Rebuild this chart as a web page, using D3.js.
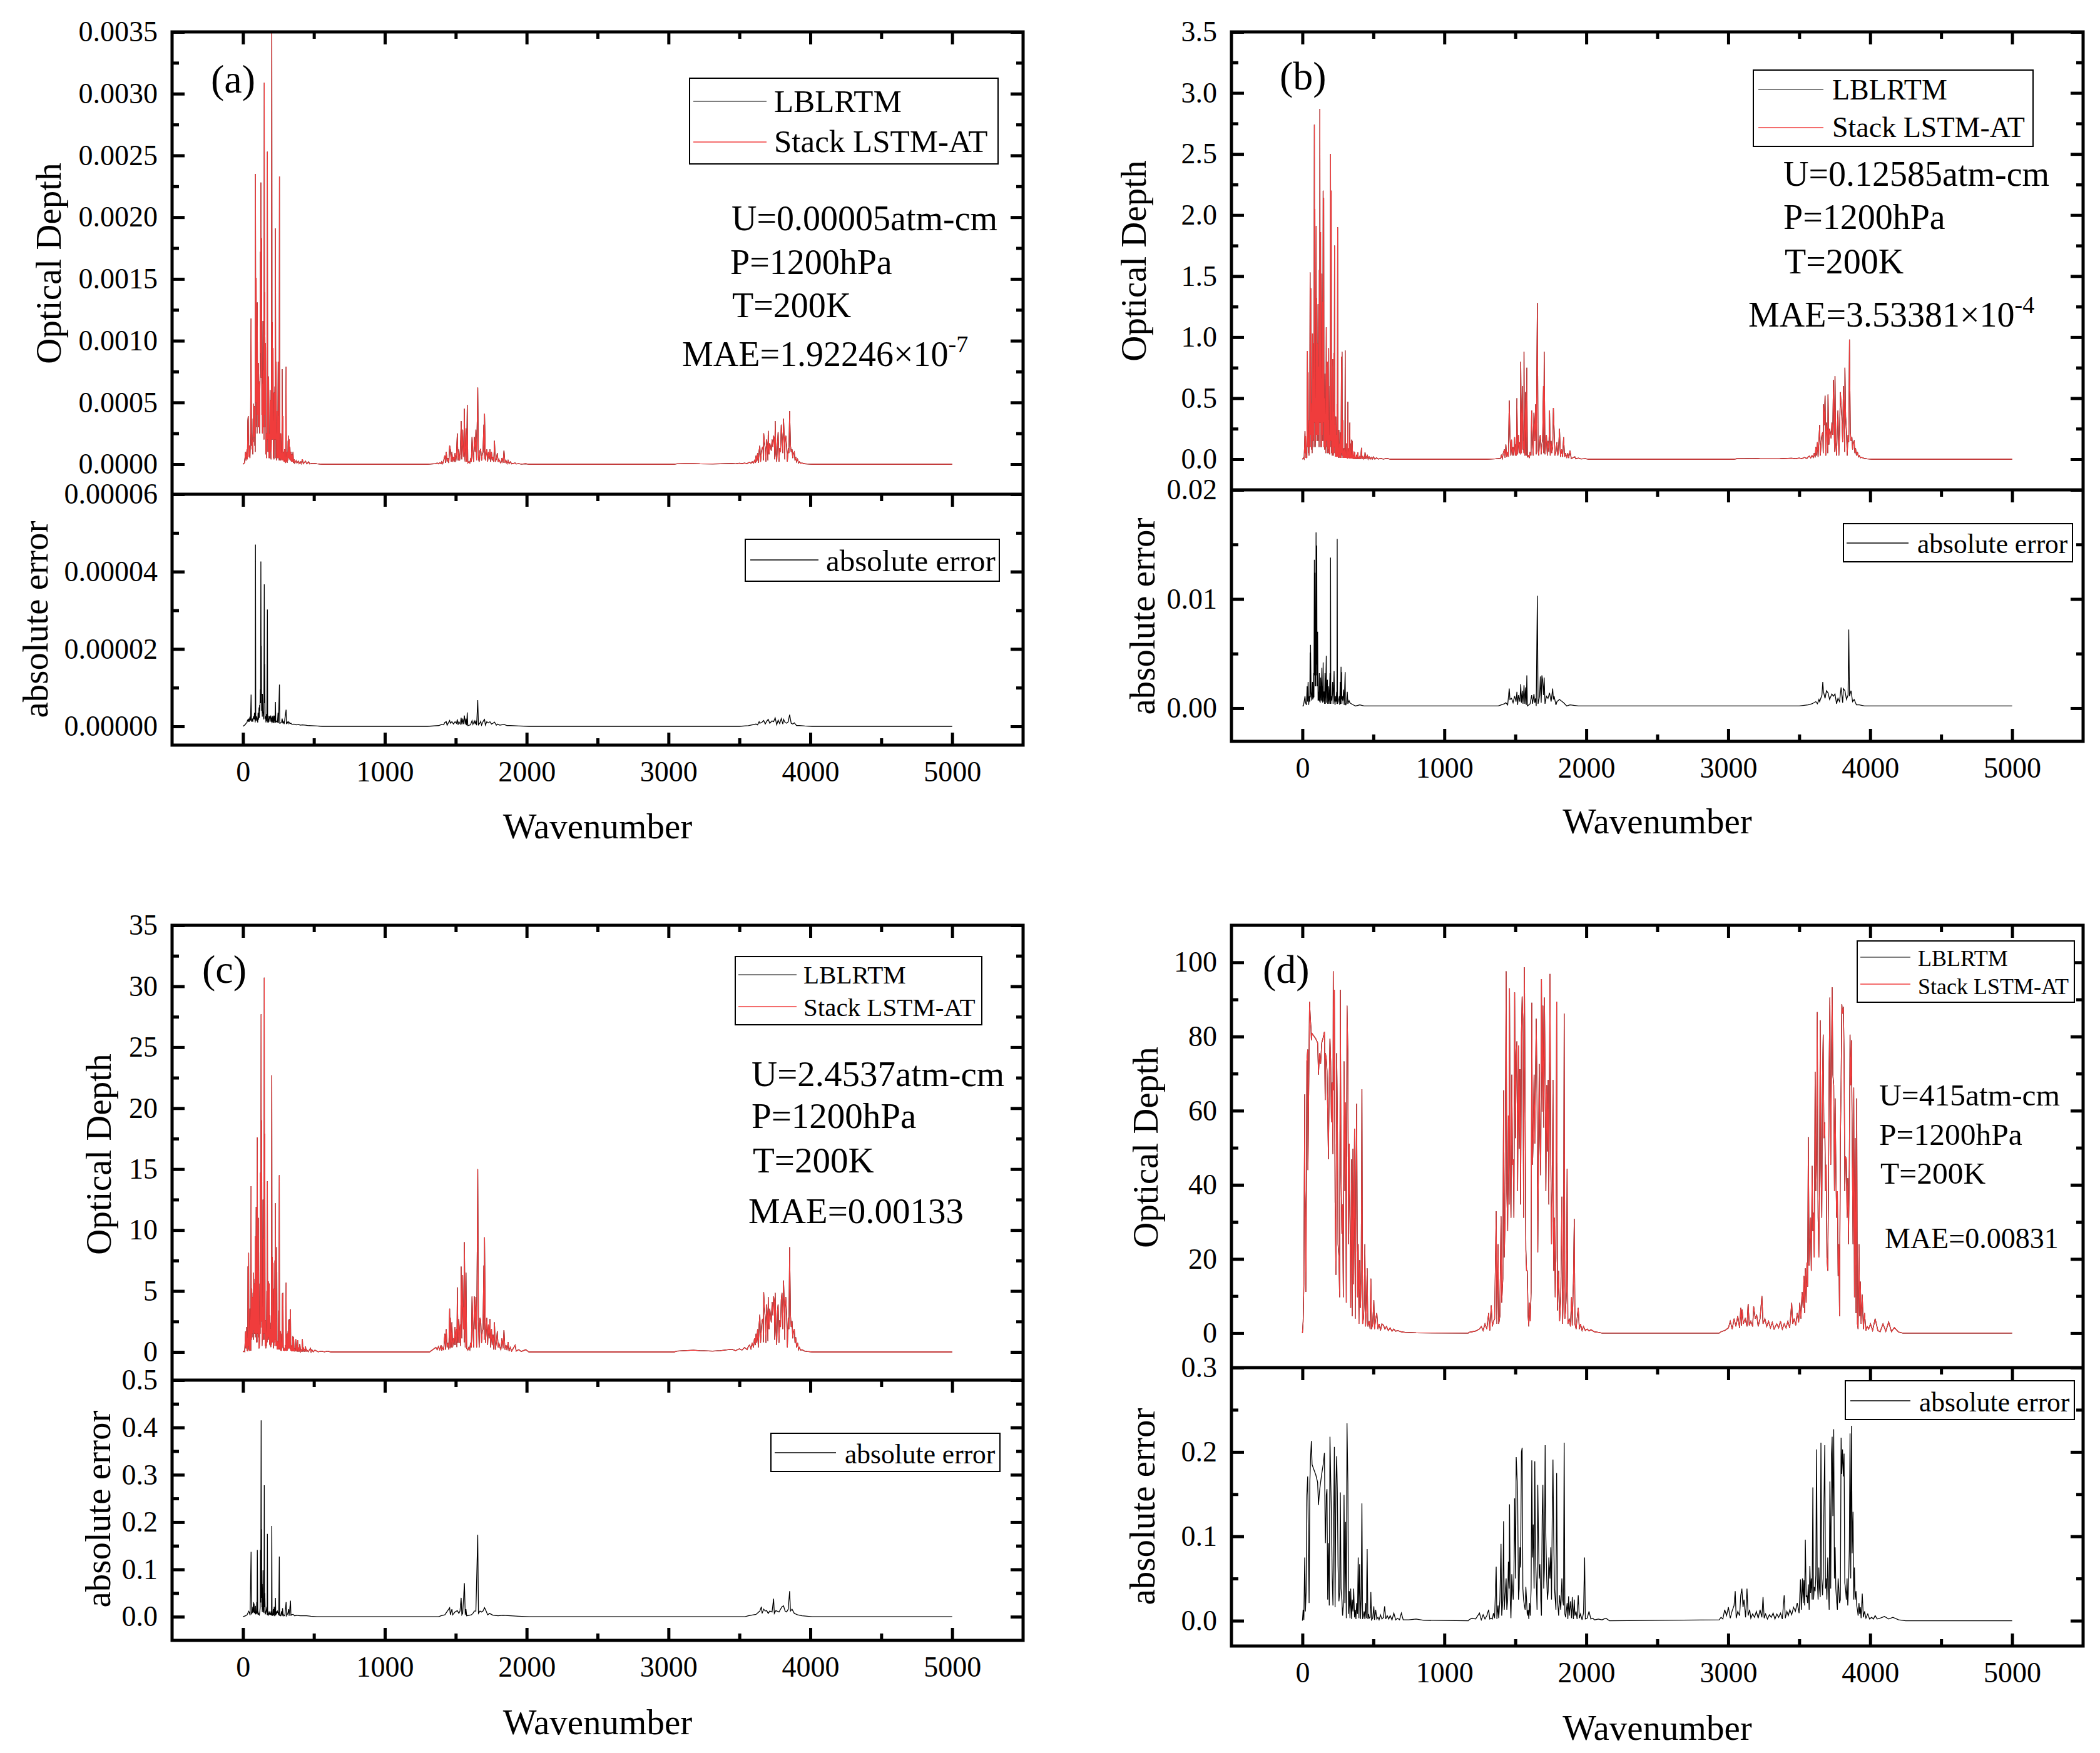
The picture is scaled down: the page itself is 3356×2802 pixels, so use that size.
<!DOCTYPE html>
<html><head><meta charset="utf-8">
<script src="https://cdn.jsdelivr.net/npm/d3@7"></script>
<style>
body{margin:0;background:#fff}
text{font-family:"Liberation Serif","Times New Roman",Times,serif;fill:#000}
</style>
</head><body>
<svg id="chart" width="3356" height="2802" xmlns="http://www.w3.org/2000/svg"></svg>
<script>
// ---------------- DATA (wavenumber, value) ----------------
// Panel (a) optical depth
const odA1=[[10,0.00001],[15,0.00006],[18,0.0001],[22,0.00003],[28,0.00012],[31,0.00004],[34,0.00035],[37,0.00039],[41,0.00006],[44,0.00015],[49,0.00005],[53,0.00025],[57,0.00118],[60,0.00015],[62,0.00025],[64,0.00012],[66,0.0002],[69,0.00008],[71,0.00037],[73,0.00018],[75,0.00049],[78,0.00022],[81,0.00047],[83,0.00015],[84,0.00034],[86,0.0001],[88,0.00235],[90,0.0005],[93,0.00151],[95,0.0003],[97,0.00052],[99,0.00025],[101,0.00131],[103,0.0004],[106,0.00065],[108,0.0003],[110,0.00082],[112,0.0003],[115,0.00067],[117,0.00025],[119,0.00058],[121,0.0008],[122,0.00172],[124,0.0009],[126,0.00228],[128,0.0007],[131,0.00183],[133,0.0004],[135,0.00065],[137,0.00025],[141,0.00116],[143,0.0003],[146,0.00076],[148,0.0002],[150,0.00309],[152,0.0004],[154,0.00139],[156,0.0003],[159,0.00098],[161,0.00008],[163,0.00025],[165,0.00005],[168,0.00025],[170,0.0001],[172,0.00253],[174,0.0002],[176,0.00069],[178,0.0001],[181,0.00071],[183,0.00005],[187,0.00025],[189,0.00005],[191,0.0006],[193,0.0001],[196,0.00052],[198,0.00004],[200,0.0002],[203,0.0036],[205,0.0002],[207,0.00115],[209,0.0002],[212,0.00094],[214,0.00005],[216,0.00028],[218,0.00004],[220,0.00058],[222,0.0002],[225,0.00063],[227,0.00005],[229,0.00191],[231,0.0002],[234,0.00083],[236,0.00003],[238,0.00025],[240,0.00005],[243,0.00043],[245,0.00005],[248,0.00083],[250,0.00005],[253,0.00039],[255,0.00003],[257,0.00233],[259,0.00005],[262,0.00008],[264,0.00003],[266,0.00025],[269,0.00004],[272,0.00009],[274,0.00003],[276,0.00077],[278,0.00003],[281,0.00039],[283,0.00003],[285,0.0001],[288,0.00002],[293,0.00012],[295,0.00002],[297,0.00003],[300,0.00001],[304,0.00079],[306,0.00002],[309,0.00006],[311,0.00001],[313,0.0001],[316,0.00003],[318,0.00019],[320,0.00005],[322,0.00023],[324,0.00005],[326,0.0002],[328,0.00004],[331,0.00014],[334,0.00003],[338,0.0001],[341,0.00002],[345,0.00008],[348,0.00002],[353,0.0001],[356,0.00001],[360,0.00004],[365,0.00001],[375,0.00003],[380,0.00001],[390,0.000025],[395,0.000005],[404,0.00002],[410,0.000005],[419,0.00004],[425,0.000005],[441,0.000025],[450,0.000003],[463,0.00002],[470,0.000002],[492,0.000007],[522,0.000003],[560,0]];
const odA2=[[1300,0],[1360,0.000005],[1369,0.00001],[1378,0.000003],[1387,0.000012],[1396,0.000004],[1401,0.00002],[1408,0.000005],[1415,0.00003],[1423,0.00007],[1428,0.00001],[1433,0.0001],[1439,0.00002],[1446,0.00005],[1451,0.00001],[1457,0.00015],[1462,0.00012],[1468,0.00002],[1473,0.0001],[1478,0.00002],[1484,0.00006],[1489,0.00002],[1495,0.00009],[1500,0.00002],[1505,0.00008],[1511,0.00025],[1516,0.00003],[1522,0.00012],[1527,0.00003],[1532,0.00008],[1538,0.00035],[1543,0.00004],[1549,0.00028],[1554,0.00006],[1558,0.0001],[1561,0.00045],[1564,0.00005],[1567,0.00002],[1572,0.00029],[1577,0.00002],[1581,0.00048],[1585,0.00001],[1592,0.00002],[1599,0.00001],[1604,0.00004],[1610,0.00002],[1615,0.00022],[1621,0.00008],[1626,0.00002],[1631,0.00022],[1637,0.0001],[1642,0.00028],[1647,0.00003],[1655,0.00062],[1660,0.00005],[1665,0.00002],[1671,0.00011],[1676,0.00012],[1682,0.00003],[1687,0.00008],[1692,0.0001],[1698,0.00032],[1700,0.00004],[1703,0.00041],[1709,0.00003],[1714,0.00008],[1719,0.00012],[1725,0.00002],[1730,0.0001],[1736,0.00004],[1741,0.00012],[1746,0.00002],[1752,0.0001],[1757,0.00003],[1763,0.00006],[1768,0.00002],[1773,0.00019],[1779,0.00002],[1786,0.00004],[1793,0.00009],[1799,0.00002],[1804,0.00004],[1811,0.00002],[1818,0.00001],[1826,0.00005],[1833,0.00001],[1840,0.00011],[1847,0.00001],[1854,0.00003],[1862,0.000005],[1869,0.00003],[1876,0.000005],[1885,0.00002],[1894,0.000003],[1919,0.00001],[1926,0.000002],[1944,0.000005],[1962,0.000001],[1993,0.000004],[2016,0]];
const odA3=[[3040,0],[3059,0.000003],[3113,0.000004],[3176,0.000005],[3221,0.000003],[3311,0.000002],[3365,0.000003],[3446,0.000006],[3473,0.000003],[3500,0.000008],[3518,0.000004],[3536,0.00001],[3554,0.000005],[3563,0.000012],[3572,0.000015],[3581,0.000007],[3590,0.00002],[3599,0.00001],[3606,0.00003],[3612,0.00001],[3617,0.00007],[3622,0.00002],[3628,0.00009],[3633,0.00001],[3639,0.00011],[3644,0.00015],[3649,0.00002],[3655,0.0001],[3660,0.00013],[3666,0.00014],[3669,0.00003],[3671,0.00025],[3676,0.00018],[3682,0.00013],[3687,0.00002],[3692,0.0002],[3698,0.00013],[3701,0.00003],[3703,0.00027],[3709,0.00008],[3714,0.00017],[3719,0.00014],[3725,0.00011],[3730,0.0002],[3736,0.00014],[3741,0.00023],[3746,0.0002],[3749,0.00004],[3752,0.00035],[3757,0.00009],[3763,0.00002],[3768,0.00016],[3773,0.00026],[3779,0.00002],[3784,0.00013],[3790,0.0001],[3795,0.00032],[3800,0.00024],[3806,0.00009],[3811,0.00037],[3817,0.00019],[3820,0.00004],[3822,0.00021],[3827,0.00023],[3833,0.00014],[3838,0.00002],[3844,0.00013],[3849,0.00009],[3854,0.00043],[3860,0.00015],[3865,0.0001],[3871,0.00012],[3876,0.00005],[3881,0.00009],[3887,0.0001],[3892,0.00003],[3897,0.00006],[3903,0.00002],[3910,0.00004],[3917,0.00001],[3923,0.00002],[3932,0.000008],[3941,0.00001],[3959,0.000004],[3977,0.000002],[4013,0]];
// Panel (a) absolute error
const errA1=[[10,0.0000003],[15,0.0000004],[18,0.0000006],[22,0.0000008],[28,0.000001],[31,0.0000015],[34,0.0000017],[37,0.0000012],[41,0.000002],[44,0.0000012],[49,0.0000025],[53,0.0000015],[57,0.0000082],[60,0.0000012],[62,0.0000014],[66,0.000002],[69,0.0000012],[71,0.000002],[75,0.0000026],[78,0.0000018],[81,0.0000035],[84,0.000002],[86,0.000001],[88,0.000047],[90,0.000002],[93,0.0000014],[97,0.0000026],[99,0.0000018],[101,0.000002],[104,0.000001],[106,0.0000035],[108,0.0000017],[110,0.000002],[113,0.0000049],[115,0.0000022],[117,0.0000055],[119,0.000004],[122,0.0000096],[124,0.000006],[126,0.0000426],[128,0.000008],[129,0.0000208],[131,0.000004],[133,0.0000067],[136,0.0000025],[137,0.0000084],[140,0.000004],[141,0.0000038],[145,0.0000024],[147,0.0000018],[150,0.0000367],[152,0.000006],[153,0.0000161],[156,0.000002],[159,0.0000026],[162,0.000001],[165,0.0000032],[168,0.0000014],[172,0.0000302],[174,0.000001],[176,0.000002],[180,0.000001],[183,0.0000026],[187,0.0000025],[190,0.0000012],[191,0.0000022],[196,0.0000028],[198,0.0000012],[200,0.0000023],[205,0.0000008],[207,0.0000026],[210,0.0000012],[212,0.0000028],[216,0.0000008],[220,0.0000028],[225,0.0000008],[229,0.0000063],[231,0.000001],[234,0.0000014],[238,0.0000012],[243,0.0000011],[247,0.0000035],[250,0.0000008],[257,0.0000108],[259,0.0000008],[262,0.0000008],[272,0.0000011],[276,0.000002],[281,0.0000008],[285,0.0000012],[290,0.0000006],[304,0.0000043],[306,0.0000006],[313,0.0000011],[318,0.0000007],[322,0.0000012],[331,0.0000007],[338,0.0000008],[345,0.0000005],[360,0.0000006],[375,0.0000004],[390,0.0000005],[404,0.0000003],[419,0.0000004],[441,0.0000003],[463,0.0000002],[522,0.0000001],[560,0]];
const errA2=[[1300,0],[1380,0.0000002],[1401,0.0000005],[1415,0.0000004],[1423,0.000001],[1433,0.0000012],[1439,0.0000003],[1457,0.0000015],[1462,0.0000008],[1473,0.0000012],[1484,0.0000006],[1495,0.0000012],[1505,0.0000008],[1511,0.0000018],[1516,0.0000004],[1522,0.0000012],[1532,0.0000006],[1538,0.0000022],[1543,0.0000005],[1549,0.000002],[1554,0.0000006],[1561,0.0000028],[1567,0.0000005],[1572,0.000002],[1577,0.0000003],[1581,0.0000036],[1585,0.0000002],[1604,0.0000004],[1615,0.0000015],[1621,0.0000005],[1631,0.0000014],[1637,0.0000006],[1642,0.0000015],[1647,0.0000003],[1655,0.0000068],[1660,0.0000004],[1671,0.0000009],[1676,0.0000013],[1682,0.0000003],[1692,0.0000012],[1698,0.0000016],[1703,0.0000018],[1709,0.0000003],[1719,0.0000012],[1730,0.0000009],[1741,0.0000012],[1752,0.0000006],[1763,0.0000008],[1773,0.0000011],[1786,0.0000003],[1793,0.0000006],[1811,0.0000003],[1840,0.0000005],[1862,0.0000002],[1885,0.0000002],[1944,0.0000001],[2016,0]];
const errA3=[[3500,0],[3563,0.0000002],[3590,0.0000004],[3617,0.0000006],[3628,0.0000004],[3639,0.0000012],[3644,0.0000008],[3660,0.0000011],[3671,0.0000015],[3682,0.0000006],[3692,0.0000013],[3703,0.0000018],[3714,0.0000008],[3730,0.0000014],[3741,0.0000012],[3752,0.0000022],[3763,0.0000004],[3773,0.0000016],[3784,0.0000007],[3795,0.000002],[3806,0.0000006],[3811,0.0000018],[3822,0.000001],[3833,0.0000008],[3844,0.0000012],[3854,0.000003],[3865,0.0000008],[3876,0.0000006],[3887,0.0000009],[3903,0.0000002],[3923,0.0000002],[3960,0.0000001],[4013,0]];

// Panel (b) optical depth
const odB1=[[7,0.011],[12,0.002],[18,0.23],[20,0.05],[22,0.19],[25,0.01],[28,0.037],[31,0.01],[35,0.886],[37,0.1],[40,0.71],[42,0.05],[44,0.13],[46,0.03],[49,0.32],[51,0.1],[54,1.53],[56,0.2],[59,1.40],[61,0.1],[63,0.46],[64,0.08],[66,0.24],[68,0.05],[71,1.03],[73,0.15],[75,0.95],[77,0.2],[78,0.58],[81,0.1],[84,2.74],[86,0.3],[88,2.05],[90,0.1],[93,0.24],[95,0.15],[97,1.91],[99,0.2],[101,1.32],[103,0.2],[106,0.95],[108,0.15],[110,1.27],[112,0.2],[115,0.76],[117,0.1],[119,1.55],[121,0.3],[123,2.87],[125,0.3],[128,1.86],[130,0.1],[132,0.39],[134,0.1],[137,1.52],[139,0.2],[141,1.29],[143,0.15],[146,2.20],[148,0.3],[150,2.14],[152,0.1],[154,0.50],[156,0.08],[159,0.70],[161,0.1],[163,0.32],[165,0.05],[168,1.08],[170,0.15],[172,0.76],[174,0.1],[176,0.80],[178,0.05],[181,0.32],[183,0.08],[185,0.91],[187,0.05],[190,0.20],[192,0.04],[194,0.60],[196,0.1],[198,2.5],[200,0.15],[203,2.2],[205,0.05],[207,0.32],[210,0.03],[213,0.82],[215,0.05],[218,0.39],[220,0.03],[222,0.87],[224,0.1],[226,1.75],[228,0.05],[231,0.28],[233,0.02],[235,0.35],[237,0.02],[240,0.20],[242,0.02],[244,0.45],[246,0.02],[248,1.90],[250,0.02],[253,0.07],[255,0.01],[257,0.24],[259,0.02],[262,0.13],[264,0.01],[266,0.22],[268,0.01],[270,0.04],[272,0.01],[275,0.84],[277,0.05],[279,0.88],[281,0.03],[284,0.32],[286,0.01],[288,0.07],[290,0.01],[293,0.09],[295,0.01],[297,0.055],[299,0.01],[301,0.89],[303,0.01],[306,0.055],[308,0.01],[310,0.13],[313,0.01],[316,0.019],[318,0.005],[320,0.47],[322,0.01],[325,0.09],[327,0.01],[329,0.037],[331,0.005],[334,0.30],[336,0.01],[338,0.13],[340,0.005],[343,0.037],[345,0.005],[347,0.16],[349,0.01],[351,0.15],[354,0.005],[357,0.026],[360,0.003],[363,0.063],[366,0.003],[369,0.056],[372,0.003],[375,0.019],[378,0.002],[382,0.037],[386,0.002],[390,0.056],[394,0.002],[398,0.019],[401,0.002],[404,0.019],[410,0.002],[416,0.093],[419,0.002],[422,0.026],[428,0.002],[434,0.019],[438,0.002],[441,0.056],[449,0.002],[457,0.037],[463,0.001],[470,0.019],[477,0.001],[485,0.015],[492,0.001],[500,0.019],[510,0.001],[522,0.011],[535,0.001],[551,0.007],[570,0.001],[595,0.007],[620,0]];
const odB2=[[1300,0],[1360,0.003],[1378,0.005],[1396,0.007],[1401,0.03],[1408,0.006],[1415,0.05],[1423,0.08],[1428,0.01],[1433,0.12],[1439,0.02],[1446,0.06],[1451,0.02],[1457,0.48],[1462,0.2],[1468,0.03],[1473,0.16],[1478,0.03],[1484,0.1],[1489,0.03],[1495,0.18],[1500,0.03],[1505,0.12],[1508,0.03],[1511,0.5],[1516,0.04],[1522,0.2],[1527,0.05],[1532,0.14],[1535,0.04],[1538,0.8],[1543,0.05],[1549,0.6],[1554,0.08],[1558,0.15],[1560,0.05],[1561,0.88],[1564,0.06],[1567,0.03],[1572,0.55],[1577,0.03],[1581,0.75],[1585,0.02],[1592,0.03],[1599,0.01],[1604,0.06],[1610,0.03],[1615,0.4],[1621,0.12],[1626,0.03],[1631,0.38],[1637,0.15],[1642,0.45],[1647,0.04],[1655,1.28],[1660,0.07],[1665,0.03],[1671,0.16],[1676,0.2],[1682,0.04],[1687,0.12],[1692,0.16],[1698,0.6],[1700,0.05],[1703,0.88],[1709,0.04],[1714,0.12],[1719,0.2],[1725,0.03],[1730,0.15],[1736,0.06],[1741,0.4],[1746,0.03],[1752,0.15],[1757,0.05],[1763,0.1],[1768,0.42],[1773,0.25],[1779,0.03],[1786,0.06],[1793,0.14],[1799,0.03],[1804,0.07],[1811,0.25],[1818,0.02],[1826,0.08],[1833,0.02],[1840,0.18],[1847,0.02],[1854,0.05],[1862,0.01],[1869,0.05],[1876,0.01],[1885,0.07],[1894,0.005],[1919,0.02],[1926,0.003],[1944,0.01],[1962,0.002],[1993,0.005],[2016,0]];
const odB3=[[3040,0],[3059,0.004],[3113,0.005],[3176,0.006],[3221,0.004],[3311,0.003],[3365,0.004],[3446,0.008],[3473,0.004],[3500,0.01],[3518,0.005],[3536,0.015],[3554,0.006],[3563,0.02],[3572,0.025],[3581,0.01],[3590,0.03],[3599,0.015],[3606,0.05],[3612,0.015],[3617,0.1],[3622,0.03],[3628,0.14],[3633,0.02],[3639,0.16],[3644,0.28],[3649,0.03],[3655,0.15],[3660,0.2],[3666,0.22],[3669,0.05],[3671,0.45],[3676,0.28],[3682,0.52],[3687,0.03],[3692,0.3],[3698,0.2],[3701,0.05],[3703,0.53],[3709,0.12],[3714,0.25],[3719,0.22],[3725,0.17],[3730,0.3],[3736,0.2],[3741,0.65],[3746,0.3],[3749,0.06],[3752,0.68],[3757,0.14],[3763,0.03],[3768,0.25],[3773,0.4],[3779,0.03],[3784,0.2],[3790,0.55],[3795,0.45],[3800,0.35],[3806,0.14],[3811,0.6],[3817,0.3],[3820,0.06],[3822,0.75],[3827,0.35],[3833,0.22],[3838,0.03],[3844,0.2],[3849,0.14],[3854,0.98],[3860,0.22],[3865,0.15],[3871,0.18],[3876,0.08],[3881,0.14],[3887,0.15],[3892,0.05],[3897,0.09],[3903,0.03],[3910,0.06],[3917,0.02],[3923,0.03],[3932,0.012],[3941,0.015],[3959,0.006],[3977,0.003],[4013,0]];
// Panel (b) absolute error
const errB1=[[7,0.0002],[18,0.0011],[22,0.0005],[28,0.0003],[33,0.002],[36,0.0006],[40,0.0024],[44,0.0003],[49,0.0011],[52,0.0006],[54,0.0051],[56,0.001],[57,0.0058],[61,0.0015],[66,0.0007],[71,0.0024],[73,0.0008],[75,0.002],[77,0.0009],[79,0.0032],[81,0.001],[84,0.0136],[86,0.003],[88,0.0124],[90,0.002],[91,0.0061],[93,0.002],[96,0.0161],[98,0.004],[99,0.0082],[100,0.003],[101,0.0149],[103,0.002],[104,0.0066],[105,0.002],[107,0.007],[110,0.0007],[113,0.0015],[115,0.0007],[119,0.0032],[121,0.0006],[123,0.002],[125,0.0005],[128,0.0028],[132,0.0007],[137,0.0037],[139,0.0006],[141,0.002],[143,0.0005],[146,0.0042],[148,0.0006],[150,0.0015],[154,0.0015],[156,0.0004],[159,0.0032],[161,0.0004],[163,0.0011],[168,0.0048],[170,0.0005],[172,0.0011],[176,0.0026],[178,0.0004],[181,0.0007],[185,0.002],[187,0.0004],[190,0.0009],[194,0.0032],[196,0.0004],[198,0.0138],[200,0.0004],[203,0.0011],[207,0.0007],[213,0.0024],[216,0.0004],[219,0.0015],[223,0.0034],[226,0.0007],[230,0.0003],[233,0.0011],[237,0.0006],[241,0.0015],[243,0.0004],[245,0.0155],[247,0.0004],[249,0.0005],[254,0.0007],[260,0.0011],[263,0.0003],[266,0.0024],[269,0.0004],[272,0.0038],[274,0.0008],[276,0.0033],[278,0.0004],[281,0.0011],[285,0.0007],[290,0.0017],[294,0.0003],[301,0.0033],[303,0.0003],[306,0.0003],[310,0.0005],[316,0.0015],[320,0.0004],[328,0.0007],[334,0.0005],[345,0.0004],[359,0.0003],[375,0.0002],[404,0.0003],[434,0.0002],[478,0.0002],[600,0.0002]];
const errB2=[[1300,0.0002],[1380,0.0002],[1401,0.0003],[1423,0.0004],[1433,0.0005],[1446,0.0003],[1457,0.0018],[1462,0.0008],[1473,0.0009],[1484,0.0005],[1495,0.0011],[1505,0.0006],[1511,0.0015],[1516,0.0003],[1522,0.0012],[1532,0.0006],[1538,0.0022],[1543,0.0005],[1549,0.0016],[1554,0.0004],[1561,0.0021],[1567,0.0004],[1572,0.0019],[1577,0.0003],[1581,0.003],[1585,0.0002],[1604,0.0004],[1615,0.0012],[1621,0.0004],[1631,0.0013],[1637,0.0005],[1642,0.0009],[1647,0.0002],[1655,0.0103],[1660,0.0004],[1671,0.0011],[1676,0.0029],[1682,0.0005],[1687,0.003],[1692,0.0026],[1698,0.0012],[1703,0.0028],[1709,0.0004],[1719,0.0011],[1730,0.0009],[1741,0.0014],[1752,0.0006],[1763,0.0018],[1768,0.0008],[1773,0.0011],[1786,0.0003],[1793,0.0006],[1811,0.0008],[1840,0.0005],[1862,0.0002],[1885,0.0003],[1944,0.0002],[2016,0.0002]];
const errB3=[[3400,0.0002],[3500,0.0002],[3563,0.0003],[3590,0.0004],[3617,0.0006],[3628,0.0004],[3639,0.0008],[3644,0.0006],[3660,0.0012],[3666,0.0024],[3671,0.0015],[3682,0.0009],[3692,0.0016],[3703,0.0014],[3714,0.0008],[3730,0.0013],[3741,0.0011],[3752,0.0013],[3763,0.0004],[3773,0.0009],[3784,0.0006],[3795,0.0019],[3806,0.0005],[3811,0.0018],[3822,0.0016],[3833,0.0008],[3844,0.0012],[3849,0.0072],[3854,0.0011],[3865,0.0016],[3876,0.0006],[3887,0.0008],[3903,0.0003],[3923,0.0003],[3960,0.0002],[4013,0.0002]];

// Panel (c) optical depth
const odC1=[[7,0.07],[12,0.02],[18,1.68],[20,0.3],[22,1.68],[24,0.3],[26,2.05],[29,0.1],[31,0.19],[33,0.05],[35,7.02],[37,0.5],[40,8.14],[42,0.3],[44,0.19],[46,0.1],[49,3.55],[51,0.2],[53,0.37],[55,0.1],[57,13.6],[59,1.0],[62,5.2],[64,1.2],[66,4.5],[68,1.5],[71,4.85],[73,1.0],[75,6.5],[77,1.8],[79,5.6],[81,1.5],[84,6.0],[86,1.2],[88,9.5],[90,1.5],[93,11.9],[95,0.8],[97,2.4],[99,0.8],[101,17.6],[103,1.5],[106,6.7],[108,1.2],[110,11.0],[112,0.3],[115,0.37],[117,1.0],[119,5.6],[121,1.5],[123,14.7],[125,2.0],[128,27.7],[130,2.5],[132,19.0],[134,0.5],[137,1.7],[139,1.0],[141,12.5],[143,1.5],[146,9.3],[148,1.0],[150,30.7],[152,1.5],[154,17.9],[156,0.5],[159,2.6],[161,0.3],[163,0.75],[165,0.5],[168,5.0],[170,0.8],[172,14.0],[174,1.0],[176,5.6],[178,1.2],[181,5.8],[183,1.0],[185,5.6],[187,0.6],[190,3.0],[192,0.5],[194,1.9],[196,0.4],[198,2.4],[200,0.6],[203,22.7],[205,0.8],[207,7.8],[209,0.8],[212,7.3],[214,0.3],[216,1.1],[218,0.5],[220,5.2],[222,0.8],[225,7.5],[227,1.0],[229,12.2],[231,0.5],[234,2.2],[236,0.5],[238,8.6],[240,0.2],[243,0.9],[245,0.2],[247,0.56],[249,0.2],[251,3.4],[253,0.3],[256,14.5],[258,0.2],[260,0.37],[262,0.2],[265,1.7],[267,0.1],[269,0.19],[271,0.1],[273,1.5],[275,0.3],[278,4.8],[280,0.4],[282,4.85],[284,0.1],[287,0.37],[290,0.1],[293,0.19],[295,0.1],[298,0.56],[301,0.1],[304,5.7],[306,0.1],[309,0.19],[311,0.1],[313,1.5],[315,0.2],[318,1.7],[320,0.3],[322,2.6],[324,0.3],[326,2.7],[328,0.3],[331,1.9],[333,0.2],[335,3.5],[337,0.1],[340,0.45],[342,0.05],[345,0.56],[348,0.05],[351,1.3],[354,0.05],[357,1.2],[360,0.05],[363,0.19],[367,0.05],[372,1.05],[375,0.05],[378,0.56],[381,0.03],[385,0.97],[388,0.03],[392,0.37],[396,0.03],[401,0.67],[406,0.02],[412,0.15],[415,0.02],[419,1.05],[422,0.02],[426,0.37],[433,0.02],[441,0.45],[445,0.02],[448,0.19],[460,0.02],[475,0.3],[480,0.01],[485,0.19],[495,0.01],[507,0.15],[530,0.01],[551,0.07],[575,0.005],[595,0.07],[620,0]];
const odC2=[[1315,0],[1360,0.37],[1369,0.19],[1378,0.45],[1387,0.19],[1396,0.56],[1401,0.11],[1408,0.37],[1415,0.15],[1423,1.5],[1428,0.19],[1433,1.87],[1439,0.37],[1446,0.75],[1451,0.19],[1457,3.55],[1460,0.3],[1462,2.8],[1468,0.37],[1473,2.43],[1478,0.37],[1484,1.12],[1489,0.56],[1495,2.05],[1500,0.56],[1505,1.87],[1508,0.4],[1511,5.3],[1516,0.75],[1522,2.7],[1527,0.75],[1532,2.24],[1535,0.5],[1538,7.0],[1543,1.12],[1549,6.3],[1554,1.87],[1558,3.7],[1560,0.8],[1561,9.0],[1567,0.37],[1572,6.5],[1577,0.3],[1585,0.15],[1592,0.37],[1599,0.19],[1604,0.75],[1610,0.37],[1615,4.55],[1621,1.87],[1626,0.37],[1631,4.55],[1637,1.87],[1642,4.5],[1647,0.37],[1655,15.0],[1660,2.6],[1665,0.37],[1671,2.8],[1676,2.6],[1682,0.75],[1687,1.7],[1692,1.87],[1698,7.1],[1700,1.0],[1703,9.4],[1709,0.75],[1714,1.5],[1719,2.8],[1725,0.56],[1730,2.24],[1736,1.12],[1741,2.7],[1746,0.37],[1752,1.87],[1757,0.56],[1763,1.42],[1768,0.19],[1773,2.43],[1779,0.19],[1786,0.75],[1793,1.7],[1799,0.37],[1804,0.75],[1811,0.37],[1818,0.19],[1826,1.12],[1833,0.3],[1840,1.8],[1847,0.19],[1854,0.56],[1862,0.15],[1869,0.82],[1876,0.07],[1885,0.37],[1894,0.07],[1919,0.56],[1926,0.07],[1944,0.19],[1962,0.04],[1993,0.19],[2016,0]];
const odC3=[[3040,0],[3059,0.07],[3113,0.11],[3176,0.15],[3221,0.11],[3311,0.07],[3365,0.11],[3446,0.22],[3473,0.11],[3500,0.26],[3518,0.15],[3536,0.37],[3554,0.19],[3563,0.45],[3572,0.56],[3581,0.26],[3590,0.75],[3599,0.37],[3606,1.12],[3612,0.56],[3617,1.5],[3622,0.75],[3628,1.87],[3633,0.37],[3639,2.24],[3644,3.06],[3649,0.75],[3655,1.87],[3660,2.6],[3666,2.7],[3669,0.8],[3671,4.9],[3676,3.7],[3682,2.8],[3687,0.75],[3692,3.9],[3698,2.6],[3701,0.9],[3703,4.5],[3709,1.87],[3714,3.55],[3719,3.0],[3725,2.43],[3730,4.1],[3736,3.0],[3741,4.55],[3746,4.1],[3749,1.0],[3752,4.85],[3757,1.87],[3763,0.56],[3768,3.36],[3773,3.9],[3779,0.75],[3784,2.6],[3790,2.05],[3795,4.3],[3800,4.85],[3806,1.87],[3811,5.86],[3817,3.7],[3820,1.0],[3822,3.7],[3827,4.5],[3833,3.0],[3838,0.37],[3844,2.8],[3849,1.87],[3854,8.6],[3860,3.0],[3865,2.05],[3871,2.54],[3876,1.12],[3881,1.7],[3887,1.87],[3892,0.75],[3897,1.2],[3903,0.37],[3910,0.75],[3917,0.19],[3923,0.37],[3932,0.15],[3941,0.19],[3959,0.07],[3977,0.04],[4013,0]];
// Panel (c) absolute error
const errC1=[[18,0.002],[29,0.004],[40,0.0115],[44,0.0096],[50,0.003],[57,0.137],[60,0.005],[62,0.007],[66,0.01],[69,0.021],[71,0.008],[73,0.031],[76,0.01],[78,0.028],[81,0.008],[84,0.0115],[86,0.006],[88,0.023],[90,0.005],[93,0.0115],[95,0.006],[97,0.031],[99,0.008],[101,0.141],[104,0.005],[106,0.0115],[108,0.004],[110,0.007],[115,0.004],[119,0.0115],[121,0.02],[123,0.141],[125,0.03],[128,0.415],[130,0.04],[131,0.185],[133,0.02],[134,0.069],[136,0.01],[137,0.031],[139,0.015],[141,0.098],[143,0.01],[146,0.021],[148,0.008],[150,0.278],[152,0.02],[154,0.05],[157,0.005],[159,0.007],[163,0.0115],[168,0.021],[170,0.004],[172,0.175],[174,0.003],[176,0.007],[180,0.004],[184,0.0115],[188,0.004],[191,0.007],[195,0.004],[198,0.0115],[201,0.003],[203,0.192],[205,0.002],[207,0.004],[210,0.003],[213,0.016],[216,0.003],[220,0.021],[223,0.002],[225,0.002],[229,0.04],[231,0.003],[234,0.0115],[238,0.007],[243,0.0115],[248,0.007],[252,0.003],[256,0.127],[258,0.002],[260,0.004],[266,0.002],[272,0.0115],[276,0.002],[279,0.018],[283,0.002],[287,0.004],[295,0.002],[304,0.031],[307,0.002],[316,0.007],[322,0.016],[325,0.002],[335,0.034],[338,0.002],[340,0.004],[353,0.005],[365,0.002],[375,0.003],[404,0.002],[448,0.002],[478,0.001],[520,0]];
const errC2=[[1380,0],[1396,0.002],[1423,0.004],[1457,0.019],[1462,0.004],[1473,0.016],[1478,0.004],[1495,0.01],[1511,0.013],[1522,0.007],[1530,0.012],[1538,0.04],[1543,0.004],[1549,0.007],[1561,0.071],[1567,0.004],[1572,0.016],[1577,0.002],[1610,0.004],[1621,0.007],[1631,0.012],[1642,0.012],[1655,0.173],[1660,0.007],[1671,0.012],[1682,0.01],[1692,0.012],[1703,0.019],[1714,0.012],[1725,0.004],[1738,0.007],[1763,0.003],[1799,0.002],[1833,0.003],[1885,0.002],[1940,0.001],[2016,0]];
const errC3=[[3540,0],[3563,0.002],[3617,0.005],[3644,0.012],[3655,0.021],[3660,0.007],[3671,0.016],[3682,0.012],[3692,0.013],[3703,0.007],[3714,0.012],[3730,0.01],[3741,0.038],[3746,0.007],[3757,0.013],[3779,0.01],[3800,0.021],[3811,0.023],[3822,0.012],[3833,0.01],[3844,0.016],[3854,0.054],[3860,0.012],[3871,0.016],[3887,0.007],[3910,0.004],[3941,0.002],[4013,0]];

// Panel (d) optical depth
const odD1=[[5,3.2],[10,13.2],[16,64.4],[18,38.3],[21,33.6],[24,11.1],[26,19.0],[31,73.3],[37,76.5],[39,44],[45,68.3],[50,89.4],[55,85.5],[60,82.3],[63,79.0],[68,80.8],[81,80.1],[94,79.4],[107,78.3],[113,69.7],[120,75.5],[128,72.6],[136,78.3],[147,79.8],[155,81.3],[160,62.9],[162,75.5],[168,74.0],[173,70.8],[178,59.7],[183,46.9],[189,68.7],[194,79.4],[199,73.3],[204,56.9],[210,67.6],[215,48.3],[217,97.6],[223,65.5],[225,92.6],[230,35.4],[236,15.7],[241,75.5],[246,59.7],[251,24.0],[257,20.7],[262,9.7],[267,92.6],[272,42.6],[278,26.8],[283,34.7],[288,9.7],[293,73.3],[299,38.3],[304,62.2],[309,8.2],[314,88.3],[320,75.8],[325,24.0],[330,51.1],[335,31.1],[340,6.8],[346,46.9],[351,4.6],[356,49.7],[361,13.2],[367,55.1],[372,3.9],[377,38.3],[382,61.9],[388,9.7],[393,24.0],[398,2.5],[403,19.7],[409,6.8],[414,16.8],[419,65.8],[424,2.5],[430,3.9],[435,8.2],[440,24.0],[445,1.8],[450,6.1],[456,17.5],[461,1.8],[466,2.5],[471,3.2],[477,1.1],[482,14.7],[487,1.1],[495,2.5],[503,8.9],[508,1.1],[516,3.9],[524,5.4],[532,1.1],[540,2.5],[550,0.7],[560,2.5],[571,2.1],[581,1.1],[592,1.8],[605,0.7],[618,1.4],[631,0.5],[644,1.1],[657,0.5],[670,0.7],[697,0.36],[723,0.2],[801,0.07],[1168,0]];
const odD2=[[1173,0.2],[1194,0.36],[1220,0.57],[1247,1.1],[1260,1.8],[1273,0.7],[1286,2.5],[1299,1.1],[1312,5.4],[1320,0.7],[1330,7.5],[1338,1.8],[1346,3.2],[1354,3.9],[1365,32.9],[1370,2.5],[1378,24.0],[1383,2.5],[1391,4.6],[1399,31.5],[1404,8.2],[1412,14.7],[1417,65.5],[1422,20.4],[1427,29.7],[1435,97.6],[1440,38.3],[1446,27.5],[1451,58.7],[1456,34.7],[1459,93.0],[1464,45.4],[1469,31.1],[1475,69.7],[1480,45.4],[1485,46.9],[1490,31.1],[1495,91.9],[1501,52.6],[1506,74.7],[1511,78.7],[1516,38.3],[1522,77.6],[1527,49.7],[1532,71.2],[1537,34.7],[1543,80.8],[1548,90.8],[1553,84.8],[1558,31.1],[1564,98.7],[1569,59.7],[1574,22.5],[1579,16.8],[1584,16.8],[1590,4.6],[1595,1.8],[1600,8.2],[1605,3.2],[1611,11.1],[1616,89.1],[1621,45.4],[1626,52.6],[1632,69.7],[1637,51.1],[1642,68.3],[1647,84.8],[1653,64.7],[1658,21.8],[1663,45.4],[1668,72.6],[1673,54.0],[1679,42.6],[1684,95.5],[1689,59.7],[1694,88.3],[1700,55.4],[1705,90.5],[1710,68.3],[1715,38.3],[1721,66.9],[1726,49.0],[1731,68.3],[1736,34.7],[1744,96.9],[1750,45.4],[1755,24.0],[1760,38.3],[1765,68.3],[1770,16.8],[1776,31.1],[1781,9.7],[1786,20.4],[1791,89.4],[1797,6.1],[1805,16.8],[1812,3.2],[1820,9.7],[1828,36.8],[1833,2.5],[1839,13.2],[1844,86.2],[1849,3.9],[1854,6.1],[1860,11.1],[1865,44.3],[1870,2.5],[1880,3.9],[1888,1.8],[1896,9.7],[1901,2.1],[1909,13.9],[1915,30.8],[1920,2.5],[1928,1.1],[1935,3.9],[1943,6.8],[1951,1.1],[1959,2.5],[1970,0.7],[1980,1.8],[1993,0.7],[2006,1.1],[2019,0.57],[2032,0.93],[2058,0.36],[2085,0.2],[2111,0]];
const odD3=[[2936,0],[2949,0.36],[2975,0.7],[3001,1.4],[3014,3.2],[3028,1.1],[3041,3.9],[3054,1.8],[3067,4.6],[3080,1.4],[3088,6.8],[3093,2.0],[3098,6.4],[3106,2.5],[3119,3.9],[3132,1.8],[3140,7.9],[3148,2.1],[3159,3.2],[3172,1.8],[3179,7.2],[3190,3.9],[3200,5.0],[3211,1.8],[3224,3.9],[3237,10.0],[3245,2.5],[3258,3.9],[3271,1.8],[3284,3.2],[3297,1.4],[3310,2.9],[3323,1.1],[3342,2.5],[3355,1.4],[3368,3.2],[3381,1.1],[3394,2.5],[3407,1.4],[3420,3.2],[3433,1.4],[3447,8.2],[3454,2.5],[3465,3.9],[3475,2.1],[3486,5.4],[3496,2.9],[3504,8.2],[3512,3.9],[3520,11.1],[3528,6.8],[3533,15.4],[3538,5.4],[3543,17.5],[3549,8.2],[3554,19.0],[3559,12.5],[3564,52.9],[3570,18.2],[3575,24.0],[3580,31.1],[3585,16.8],[3591,45.1],[3596,27.5],[3601,32.5],[3606,20.4],[3612,70.5],[3617,38.3],[3622,45.4],[3627,86.6],[3633,31.1],[3638,20.4],[3643,38.3],[3648,84.4],[3653,45.4],[3659,31.1],[3664,69.0],[3669,80.5],[3674,52.6],[3680,56.9],[3685,38.3],[3690,45.4],[3695,20.4],[3701,16.8],[3706,38.3],[3711,72.6],[3716,90.5],[3722,45.4],[3727,71.9],[3732,93.3],[3737,69.7],[3743,66.9],[3748,38.3],[3753,63.3],[3758,45.4],[3763,31.1],[3769,38.3],[3774,15.4],[3779,24.0],[3784,4.6],[3790,52.6],[3795,66.9],[3800,88.7],[3805,86.2],[3811,88.0],[3816,75.5],[3821,38.3],[3826,47.6],[3832,46.9],[3837,31.1],[3842,41.8],[3847,24.0],[3853,45.4],[3858,80.5],[3863,66.9],[3868,79.0],[3873,52.6],[3879,24.0],[3884,66.2],[3889,9.7],[3894,52.6],[3900,5.4],[3905,63.3],[3910,2.5],[3915,1.1],[3921,24.0],[3926,4.6],[3931,13.9],[3936,2.5],[3944,10.4],[3952,1.1],[3960,5.4],[3970,0.7],[3978,1.8],[3989,1.1],[4002,2.5],[4017,0.7],[4035,3.9],[4054,0.7],[4070,0.36],[4090,2.5],[4110,0.5],[4130,3.0],[4150,0.4],[4170,1.5],[4200,0.3],[4230,0]];
// Panel (d) absolute error
const errD1=[[5,0.013],[10,0.001],[16,0.075],[21,0.011],[26,0.034],[31,0.149],[37,0.171],[42,0.095],[47,0.021],[52,0.163],[58,0.196],[63,0.213],[68,0.185],[81,0.179],[94,0.173],[107,0.164],[113,0.137],[120,0.153],[128,0.164],[136,0.174],[147,0.186],[155,0.199],[160,0.107],[162,0.092],[168,0.149],[173,0.156],[178,0.025],[183,0.092],[189,0.018],[194,0.218],[199,0.169],[204,0.129],[210,0.05],[215,0.018],[220,0.119],[225,0.206],[230,0.016],[236,0.159],[241,0.195],[246,0.154],[251,0.065],[257,0.023],[262,0.033],[267,0.152],[272,0.038],[278,0.025],[283,0.006],[288,0.018],[293,0.149],[299,0.021],[304,0.117],[309,0.003],[314,0.234],[320,0.163],[325,0.008],[330,0.035],[335,0.003],[340,0.038],[346,0.002],[351,0.025],[356,0.011],[361,0.038],[367,0.004],[372,0.013],[377,0.002],[382,0.021],[388,0.008],[393,0.075],[398,0.003],[403,0.067],[409,0.002],[414,0.025],[419,0.139],[424,0.002],[430,0.006],[435,0.011],[440,0.002],[445,0.021],[450,0.003],[456,0.085],[461,0.002],[466,0.008],[471,0.003],[477,0.004],[482,0.034],[487,0.001],[495,0.003],[503,0.017],[508,0.001],[516,0.013],[524,0.002],[532,0.004],[540,0.001],[550,0.007],[560,0.002],[571,0.004],[579,0.017],[587,0.002],[597,0.006],[608,0.002],[618,0.006],[631,0.001],[644,0.009],[657,0.001],[670,0.003],[684,0.001],[697,0.009],[710,0.001],[749,0.001],[801,0.002],[854,0.0005],[1168,0]];
const errD2=[[1173,0.001],[1194,0.003],[1220,0.002],[1247,0.009],[1260,0.001],[1273,0.007],[1286,0.002],[1299,0.006],[1312,0.013],[1320,0.002],[1330,0.003],[1338,0.002],[1346,0.009],[1354,0.003],[1365,0.064],[1370,0.002],[1378,0.018],[1383,0.003],[1391,0.024],[1399,0.091],[1404,0.006],[1412,0.025],[1417,0.118],[1422,0.013],[1427,0.028],[1435,0.05],[1440,0.013],[1446,0.025],[1451,0.07],[1456,0.038],[1459,0.138],[1464,0.025],[1469,0.003],[1475,0.055],[1480,0.038],[1485,0.025],[1490,0.054],[1495,0.145],[1501,0.05],[1506,0.194],[1511,0.174],[1516,0.153],[1522,0.025],[1527,0.038],[1532,0.087],[1537,0.063],[1543,0.2],[1548,0.205],[1553,0.038],[1558,0.025],[1564,0.018],[1569,0.013],[1574,0.04],[1579,0.025],[1584,0.006],[1590,0.013],[1595,0.002],[1600,0.021],[1605,0.006],[1611,0.038],[1616,0.19],[1621,0.075],[1626,0.114],[1632,0.038],[1637,0.189],[1642,0.075],[1647,0.05],[1653,0.013],[1658,0.161],[1663,0.1],[1668,0.05],[1673,0.067],[1679,0.025],[1684,0.006],[1689,0.124],[1694,0.161],[1700,0.038],[1705,0.063],[1710,0.208],[1715,0.1],[1721,0.05],[1726,0.025],[1731,0.035],[1736,0.075],[1744,0.05],[1750,0.087],[1755,0.025],[1760,0.124],[1765,0.191],[1770,0.1],[1776,0.038],[1781,0.025],[1786,0.013],[1791,0.175],[1797,0.025],[1805,0.006],[1812,0.03],[1820,0.013],[1828,0.05],[1833,0.025],[1839,0.018],[1844,0.211],[1849,0.008],[1854,0.004],[1860,0.013],[1865,0.021],[1870,0.002],[1875,0.029],[1880,0.006],[1888,0.023],[1896,0.003],[1901,0.028],[1909,0.002],[1915,0.025],[1920,0.006],[1928,0.011],[1935,0.002],[1943,0.03],[1951,0.003],[1959,0.008],[1970,0.001],[1980,0.009],[1988,0.075],[1993,0.002],[2006,0.003],[2019,0.011],[2032,0.002],[2045,0.003],[2058,0.001],[2085,0.002],[2111,0.001],[2137,0.003],[2163,0]];
const errD3=[[2936,0.001],[2949,0.004],[2962,0.002],[2975,0.013],[2988,0.006],[3001,0.016],[3014,0.003],[3028,0.012],[3041,0.018],[3049,0.035],[3056,0.003],[3067,0.011],[3080,0.006],[3088,0.03],[3096,0.038],[3104,0.016],[3111,0.025],[3122,0.004],[3132,0.038],[3140,0.006],[3151,0.013],[3159,0.003],[3172,0.008],[3185,0.004],[3198,0.011],[3211,0.003],[3224,0.013],[3237,0.004],[3245,0.028],[3253,0.003],[3263,0.008],[3276,0.002],[3290,0.007],[3303,0.004],[3316,0.009],[3329,0.002],[3342,0.008],[3355,0.004],[3368,0.009],[3381,0.002],[3394,0.03],[3402,0.003],[3413,0.011],[3423,0.006],[3434,0.013],[3447,0.007],[3460,0.016],[3473,0.011],[3486,0.021],[3499,0.009],[3509,0.049],[3515,0.013],[3523,0.05],[3528,0.021],[3533,0.048],[3538,0.018],[3543,0.096],[3549,0.028],[3554,0.03],[3559,0.021],[3564,0.043],[3570,0.013],[3575,0.065],[3580,0.033],[3585,0.05],[3591,0.025],[3596,0.158],[3601,0.025],[3606,0.04],[3612,0.035],[3617,0.054],[3622,0.203],[3627,0.05],[3633,0.025],[3638,0.063],[3643,0.038],[3648,0.028],[3653,0.211],[3659,0.05],[3664,0.03],[3669,0.05],[3674,0.134],[3680,0.208],[3685,0.038],[3690,0.05],[3695,0.025],[3701,0.075],[3706,0.038],[3711,0.013],[3716,0.165],[3722,0.038],[3727,0.196],[3732,0.218],[3737,0.124],[3743,0.227],[3748,0.05],[3753,0.087],[3758,0.038],[3763,0.025],[3769,0.013],[3774,0.05],[3779,0.038],[3784,0.021],[3790,0.025],[3795,0.217],[3800,0.174],[3805,0.203],[3811,0.171],[3816,0.198],[3821,0.045],[3826,0.038],[3832,0.025],[3837,0.05],[3842,0.018],[3847,0.038],[3853,0.085],[3858,0.222],[3863,0.05],[3868,0.231],[3873,0.08],[3879,0.129],[3884,0.025],[3889,0.063],[3894,0.025],[3900,0.035],[3905,0.018],[3910,0.013],[3915,0.006],[3921,0.021],[3926,0.008],[3931,0.016],[3936,0.003],[3944,0.032],[3952,0.004],[3960,0.011],[3970,0.003],[3983,0.008],[3996,0.002],[4010,0.004],[4023,0.002],[4035,0.006],[4049,0.002],[4070,0.003],[4100,0.005],[4130,0.002],[4160,0.004],[4200,0.001],[4250,0]];

// Tick values
const xTicks=[0,1000,2000,3000,4000,5000];
const tickOdA=[0,0.0005,0.001,0.0015,0.002,0.0025,0.003,0.0035];
const tickErrA=[0,0.00002,0.00004,0.00006];
const tickOdB=[0,0.5,1,1.5,2,2.5,3,3.5];
const tickErrB=[0,0.01,0.02];
const tickOdC=[0,5,10,15,20,25,30,35];
const tickErrC=[0,0.1,0.2,0.3,0.4,0.5];
const tickOdD=[0,20,40,60,80,100];
const tickErrD=[0,0.1,0.2,0.3];

// Texts
const seriesNames=["LBLRTM","Stack LSTM-AT"];
const errName="absolute error";
const annA=["U=0.00005atm-cm","P=1200hPa","T=200K"], maeA=["MAE=1.92246×10","-7"];
const annB=["U=0.12585atm-cm","P=1200hPa","T=200K"], maeB=["MAE=3.53381×10","-4"];
const annC=["U=2.4537atm-cm","P=1200hPa","T=200K"], maeC=["MAE=0.00133",""];
const annD=["U=415atm-cm","P=1200hPa","T=200K"], maeD=["MAE=0.00831",""];

// Series assembly (LBLRTM reference and Stack LSTM-AT prediction coincide at figure resolution)
const odA=[[0,0],...odA1,...odA2,...odA3,[5000,0]];
const errA=[[0,0],...errA1,...errA2,...errA3,[5000,0]];
const odB=[[0,0],...odB1,...odB2,...odB3,[5000,0]];
const errB=[[0,0.0002],...errB1,...errB2,...errB3,[5000,0.0002]];
const odC=[[0,0],...odC1,...odC2,...odC3,[5000,0]];
const errC=[[0,0],...errC1,...errC2,...errC3,[5000,0]];
const odD=[[0,0],...odD1,...odD2,...odD3,[5000,0]];
const errD=[[0,0],...errD1,...errD2,...errD3,[5000,0]];

// ---------------- LAYOUT ----------------
const RED="#f03c3c";
const FONT='"Liberation Serif","Times New Roman",Times,serif';
const panels=[
 {key:"a",label:"(a)",lab:[337,148],x0:275,x1:1635,yT:51,yD:790,yB:1191,
  lbl:odA,stack:odA,err:errA,odDom:[-0.000243,0.0035],errDom:[-0.00000485,0.00006],
  odT:tickOdA,errT:tickErrA,odF:".4f",errF:".5f",
  tOD:[97,421],tER:[76,990],wnY:1340,
  leg:{box:[1102,125,1595,262],lx:[1108,1225],ly:[162,227],tx:1237,ty:[179,243],fs:51},
  leg2:{box:[1191,862,1597,929],lx:[1199,1308],ly:895,tx:1320,ty:913,fs:49},
  ann:annA,mae:maeA,annPos:[[1169,368],[1167,438],[1170,507]],maePos:[1090,585],annFs:56,maeFs:56},
 {key:"b",label:"(b)",lab:[2045,143],x0:1968,x1:3329,yT:51,yD:783,yB:1185,
  lbl:odB,stack:odB,err:errB,odDom:[-0.251,3.5],errDom:[-0.00304,0.02],
  odT:tickOdB,errT:tickErrB,odF:".1f",errF:".2f",
  tOD:[1831,417],tER:[1845,985],wnY:1332,
  leg:{box:[2802,112,3249,234],lx:[2810,2914],ly:[143,204],tx:2928,ty:[159,219],fs:46},
  leg2:{box:[2946,837,3312,898],lx:[2951,3050],ly:868,tx:3064,ty:884,fs:43.5},
  ann:annB,mae:maeB,annPos:[[2850,297],[2850,366],[2852,437]],maePos:[2794,522],annFs:56,maeFs:56},
 {key:"c",label:"(c)",lab:[323,1571],x0:275,x1:1635,yT:1479,yD:2206,yB:2622,
  lbl:odC,stack:odC,err:errC,odDom:[-2.31,35],errDom:[-0.05,0.5],
  odT:tickOdC,errT:tickErrC,odF:"d",errF:".1f",
  tOD:[177,1845],tER:[176,2412],wnY:2772,
  leg:{box:[1175,1529,1569,1638],lx:[1180,1273],ly:[1558,1609],tx:1284,ty:[1572,1624],fs:41},
  leg2:{box:[1232,2291,1598,2352],lx:[1238,1336],ly:2322,tx:1350,ty:2339,fs:43.5},
  ann:annC,mae:maeC,annPos:[[1201,1736],[1201,1803],[1203,1874]],maePos:[1196,1955],annFs:57,maeFs:57},
 {key:"d",label:"(d)",lab:[2018,1571],x0:1968,x1:3329,yT:1479,yD:2186,yB:2631,
  lbl:odD,stack:odD,err:errD,odDom:[-9.3,110],errDom:[-0.03,0.3],
  odT:tickOdD,errT:tickErrD,odF:"d",errF:".1f",
  tOD:[1850,1834],tER:[1845,2408],wnY:2781,
  leg:{box:[2968,1504,3315,1602],lx:[2973,3053],ly:[1530,1573],tx:3065,ty:[1544,1589],fs:36},
  leg2:{box:[2949,2207,3315,2269],lx:[2957,3053],ly:2239,tx:3067,ty:2256,fs:43.5},
  ann:annD,mae:maeD,annPos:[[3003,1767],[3003,1830],[3005,1892]],maePos:[3012,1995],annFs:49.5,maeFs:46}
];

// ---------------- DRAW ----------------
const svg=d3.select("#chart");
svg.append("rect").attr("width",3356).attr("height",2802).attr("fill","#fff");
const defs=svg.append("defs");
const MAJ=20, MIN=11, TFS=46;
const mids=t=>d3.pairs(t).map(([a,b])=>(a+b)/2);

function styleAxis(g){
  g.attr("font-family",null).attr("font-size",null);
  g.select(".domain").remove();
  g.selectAll(".tick line").attr("stroke","#000").attr("stroke-width",5);
  g.selectAll(".tick text").attr("font-size",TFS).attr("font-family",FONT).attr("fill","#000");
}

function drawPanel(p){
  const g=svg.append("g").attr("id","panel-"+p.key);
  const x=d3.scaleLinear().domain([-500,5500]).range([p.x0,p.x1]);
  const yo=d3.scaleLinear().domain(p.odDom).range([p.yD,p.yT]);
  const ye=d3.scaleLinear().domain(p.errDom).range([p.yB,p.yD]);
  defs.append("clipPath").attr("id","co"+p.key).append("rect")
    .attr("x",p.x0).attr("y",p.yT).attr("width",p.x1-p.x0).attr("height",p.yD-p.yT);
  defs.append("clipPath").attr("id","ce"+p.key).append("rect")
    .attr("x",p.x0).attr("y",p.yD).attr("width",p.x1-p.x0).attr("height",p.yB-p.yD);
  const lo=d3.line().x(d=>x(d[0])).y(d=>yo(d[1]));
  const le=d3.line().x(d=>x(d[0])).y(d=>ye(d[1]));
  const gl=g.append("g");
  gl.append("path").datum(p.lbl).attr("d",lo).attr("fill","none").attr("stroke","#000")
    .attr("stroke-width",1.3).attr("stroke-linejoin","miter").attr("clip-path",`url(#co${p.key})`);
  gl.append("path").datum(p.stack).attr("d",lo).attr("fill","none").attr("stroke",RED)
    .attr("stroke-width",1.3).attr("stroke-linejoin","miter").attr("clip-path",`url(#co${p.key})`);
  gl.append("path").datum(p.err).attr("d",le).attr("fill","none").attr("stroke","#000")
    .attr("stroke-width",1.3).attr("stroke-linejoin","miter").attr("clip-path",`url(#ce${p.key})`);

  const ax=(gen,tr)=>g.append("g").attr("transform",tr).call(gen).call(styleAxis);
  // left axes (labelled)
  ax(d3.axisLeft(yo).tickValues(p.odT).tickSize(-MAJ).tickPadding(23).tickFormat(d3.format(p.odF)),`translate(${p.x0},0)`);
  ax(d3.axisLeft(yo).tickValues(mids(p.odT)).tickSize(-MIN).tickFormat(""),`translate(${p.x0},0)`);
  ax(d3.axisLeft(ye).tickValues(p.errT).tickSize(-MAJ).tickPadding(23).tickFormat(d3.format(p.errF)),`translate(${p.x0},0)`);
  ax(d3.axisLeft(ye).tickValues(mids(p.errT)).tickSize(-MIN).tickFormat(""),`translate(${p.x0},0)`);
  // right axes
  ax(d3.axisRight(yo).tickValues(p.odT).tickSize(-MAJ).tickFormat(""),`translate(${p.x1},0)`);
  ax(d3.axisRight(yo).tickValues(mids(p.odT)).tickSize(-MIN).tickFormat(""),`translate(${p.x1},0)`);
  ax(d3.axisRight(ye).tickValues(p.errT).tickSize(-MAJ).tickFormat(""),`translate(${p.x1},0)`);
  ax(d3.axisRight(ye).tickValues(mids(p.errT)).tickSize(-MIN).tickFormat(""),`translate(${p.x1},0)`);
  // top axis, divider axis, bottom axis
  [p.yT,p.yD].forEach(yy=>{
    ax(d3.axisTop(x).tickValues(xTicks).tickSize(-MAJ).tickFormat(""),`translate(0,${yy})`);
    ax(d3.axisTop(x).tickValues(mids(xTicks)).tickSize(-MIN).tickFormat(""),`translate(0,${yy})`);
  });
  ax(d3.axisBottom(x).tickValues(xTicks).tickSize(-MAJ).tickPadding(25).tickFormat(d3.format("d")),`translate(0,${p.yB})`);
  ax(d3.axisBottom(x).tickValues(mids(xTicks)).tickSize(-MIN).tickFormat(""),`translate(0,${p.yB})`);

  // frame
  g.append("rect").attr("x",p.x0).attr("y",p.yT).attr("width",p.x1-p.x0).attr("height",p.yB-p.yT)
    .attr("fill","none").attr("stroke","#000").attr("stroke-width",5);
  g.append("line").attr("x1",p.x0).attr("x2",p.x1).attr("y1",p.yD).attr("y2",p.yD)
    .attr("stroke","#000").attr("stroke-width",5);

  // axis titles
  g.append("text").attr("transform",`translate(${p.tOD[0]},${p.tOD[1]}) rotate(-90)`)
    .attr("text-anchor","middle").attr("font-size",57).text("Optical Depth");
  g.append("text").attr("transform",`translate(${p.tER[0]},${p.tER[1]}) rotate(-90)`)
    .attr("text-anchor","middle").attr("font-size",57).text("absolute error");
  g.append("text").attr("x",(p.x0+p.x1)/2).attr("y",p.wnY).attr("text-anchor","middle")
    .attr("font-size",57).text("Wavenumber");
  // panel label
  g.append("text").attr("x",p.lab[0]).attr("y",p.lab[1]).attr("font-size",64).text(p.label);

  // legend (top)
  const L=p.leg;
  g.append("rect").attr("x",L.box[0]).attr("y",L.box[1]).attr("width",L.box[2]-L.box[0]).attr("height",L.box[3]-L.box[1])
    .attr("fill","#fff").attr("stroke","#000").attr("stroke-width",2);
  [["#555",0],[RED,1]].forEach(([c,i])=>{
    g.append("line").attr("x1",L.lx[0]).attr("x2",L.lx[1]).attr("y1",L.ly[i]).attr("y2",L.ly[i])
      .attr("stroke",c).attr("stroke-width",1.6);
    g.append("text").attr("x",L.tx).attr("y",L.ty[i]).attr("font-size",L.fs).text(seriesNames[i]);
  });
  // legend (bottom)
  const M=p.leg2;
  g.append("rect").attr("x",M.box[0]).attr("y",M.box[1]).attr("width",M.box[2]-M.box[0]).attr("height",M.box[3]-M.box[1])
    .attr("fill","#fff").attr("stroke","#000").attr("stroke-width",2);
  g.append("line").attr("x1",M.lx[0]).attr("x2",M.lx[1]).attr("y1",M.ly).attr("y2",M.ly)
    .attr("stroke","#000").attr("stroke-width",1.6);
  g.append("text").attr("x",M.tx).attr("y",M.ty).attr("font-size",M.fs).text(errName);

  // annotations
  p.ann.forEach((t,i)=>{
    g.append("text").attr("x",p.annPos[i][0]).attr("y",p.annPos[i][1]).attr("font-size",p.annFs).text(t);
  });
  const mt=g.append("text").attr("x",p.maePos[0]).attr("y",p.maePos[1]).attr("font-size",p.maeFs).text(p.mae[0]);
  if(p.mae[1]) mt.append("tspan").attr("font-size",p.maeFs*0.68).attr("dy",-p.maeFs*0.4).text(p.mae[1]);
}
panels.forEach(drawPanel);
</script>
</body></html>
